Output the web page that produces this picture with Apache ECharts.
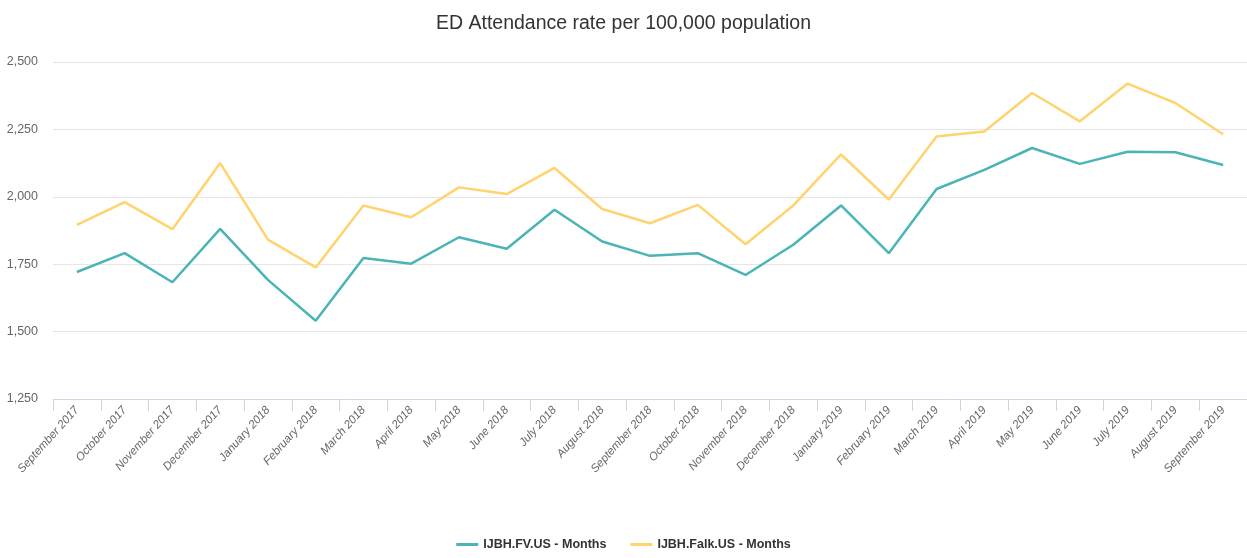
<!DOCTYPE html>
<html lang="en" style="height: 100%">
<head>
  <meta charset="utf-8">
</head>
<body style="height: 100%; margin: 0; background: #fff">
  <div id="container" style="width: 1247px; height: 558px"></div>

  <script type="text/javascript" src="https://fastly.jsdelivr.net/npm/echarts@6/dist/echarts.min.js"></script>
  <script type="text/javascript">
    var months = [
      'September 2017', 'October 2017', 'November 2017', 'December 2017',
      'January 2018', 'February 2018', 'March 2018', 'April 2018', 'May 2018',
      'June 2018', 'July 2018', 'August 2018', 'September 2018', 'October 2018',
      'November 2018', 'December 2018', 'January 2019', 'February 2019',
      'March 2019', 'April 2019', 'May 2019', 'June 2019', 'July 2019',
      'August 2019', 'September 2019'
    ];
    var fvValues = [
      1721, 1791, 1683, 1881, 1692, 1540, 1773, 1752, 1850, 1807, 1952, 1834,
      1781, 1791, 1710, 1822, 1968, 1791, 2029, 2100, 2181, 2122, 2167, 2165, 2118
    ];
    var falkValues = [
      1896, 1980, 1880, 2125, 1841, 1738, 1968, 1924, 2035, 2010, 2107, 1955,
      1902, 1970, 1824, 1968, 2157, 1990, 2224, 2242, 2385, 2280, 2420, 2348, 2232
    ];
    var fvName = 'IJBH.FV.US - Months';
    var falkName = 'IJBH.Falk.US - Months';

    // no narrow font installed, so sizes are trimmed to match widths
    var font = "'Liberation Sans Narrow', 'Arial Narrow', 'Liberation Sans', sans-serif";

    var myChart = echarts.init(document.getElementById('container'), null, {
      renderer: 'canvas'
    });

    var option = {
      animation: false,
      title: {
        text: 'ED Attendance rate per 100,000 population',
        left: 'center',
        top: 9,
        textStyle: {
          fontFamily: font,
          fontSize: 19.5,
          fontWeight: 'normal',
          color: '#333333'
        }
      },
      legend: {
        bottom: 2,
        left: 'center',
        itemWidth: 22,
        itemHeight: 3,
        itemGap: 24,
        icon: 'rect',
        textStyle: {
          fontFamily: font,
          fontSize: 12.5,
          fontWeight: 'bold',
          color: '#333333'
        },
        data: [fvName, falkName]
      },
      grid: {
        left: 53,
        right: -3,
        top: 62,
        bottom: 159,
        containLabel: false
      },
      xAxis: {
        type: 'category',
        data: months,
        boundaryGap: true,
        axisLine: { lineStyle: { color: '#ccd6eb', width: 1 } },
        axisTick: { show: true, length: 12, lineStyle: { color: '#ccd6eb' } },
        axisLabel: {
          rotate: 48,
          interval: 0,
          margin: 9,
          fontFamily: font,
          fontSize: 11.5,
          fontStyle: 'italic',
          color: '#666666'
        }
      },
      yAxis: {
        type: 'value',
        min: 1250,
        max: 2500,
        interval: 250,
        axisLine: { show: false },
        axisTick: { show: false },
        splitLine: { lineStyle: { color: '#e6e6e6', width: 1 } },
        axisLabel: {
          margin: 15,
          fontFamily: font,
          fontSize: 12.5,
          color: '#666666',
          formatter: function (v) {
            return v.toLocaleString('en-US');
          }
        }
      },
      series: [
        {
          name: fvName,
          type: 'line',
          data: fvValues,
          symbol: 'none',
          color: '#4bb4b7',
          lineStyle: { width: 2.5, color: '#4bb4b7' }
        },
        {
          name: falkName,
          type: 'line',
          data: falkValues,
          symbol: 'none',
          color: '#ffd36e',
          lineStyle: { width: 2.5, color: '#ffd36e' }
        }
      ]
    };

    myChart.setOption(option);
    window.addEventListener('resize', myChart.resize);
  </script>
</body>
</html>
